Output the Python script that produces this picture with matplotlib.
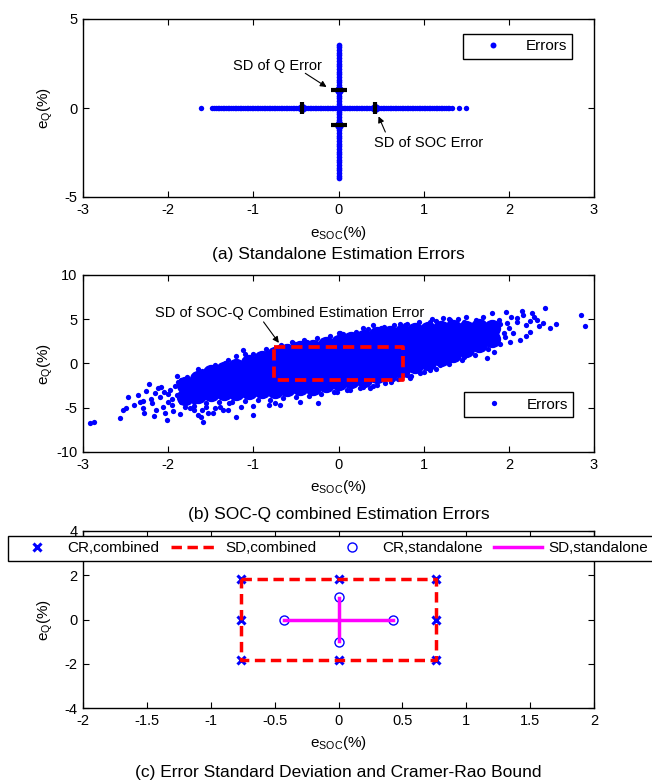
import numpy as np
import matplotlib
matplotlib.use("Agg")
import matplotlib.pyplot as plt

plt.rcParams['font.family'] = ['Liberation Sans', 'DejaVu Sans']
plt.rcParams['mathtext.fontset'] = 'custom'
plt.rcParams['mathtext.rm'] = 'Liberation Sans'
plt.rcParams['mathtext.default'] = 'regular'

# (a) standalone errors: SOC errors lie on e_Q = 0, Q errors on e_SOC = 0
soc_err = [-1.62, -1.48, -1.46, -1.44, -1.42, -1.40, -1.38, -1.36, -1.34, -1.32,
           -1.30, -1.28, -1.26, -1.24, -1.22, -1.20, -1.18, -1.16, -1.14, -1.12,
           -1.10, -1.08, -1.06, -1.04, -1.02, -1.00, -0.98, -0.96, -0.94, -0.92,
           -0.90, -0.88, -0.86, -0.84, -0.82, -0.80, -0.78, -0.76, -0.74, -0.72,
           -0.70, -0.68, -0.66, -0.64, -0.62, -0.60, -0.58, -0.56, -0.54, -0.52,
           -0.50, -0.48, -0.46, -0.44, -0.42, -0.40, -0.38, -0.36, -0.34, -0.32,
           -0.30, -0.28, -0.26, -0.24, -0.22, -0.20, -0.18, -0.16, -0.14, -0.12,
           -0.10, -0.08, -0.06, -0.04, -0.02, 0.00, 0.02, 0.04, 0.06, 0.08,
           0.10, 0.12, 0.14, 0.16, 0.18, 0.20, 0.22, 0.24, 0.26, 0.28,
           0.30, 0.32, 0.34, 0.36, 0.38, 0.40, 0.42, 0.44, 0.46, 0.48,
           0.50, 0.52, 0.54, 0.56, 0.58, 0.60, 0.62, 0.64, 0.66, 0.68,
           0.70, 0.72, 0.74, 0.76, 0.78, 0.80, 0.82, 0.84, 0.86, 0.88,
           0.90, 0.92, 0.94, 0.96, 0.98, 1.00, 1.02, 1.04, 1.06, 1.08,
           1.10, 1.12, 1.14, 1.16, 1.18, 1.20, 1.22, 1.24, 1.26, 1.28,
           1.30, 1.33, 1.42, 1.50]
q_err = [-3.92, -3.80, -3.65, -3.50, -3.35, -3.20, -3.05, -2.90, -2.75, -2.60,
         -2.45, -2.30, -2.15, -2.00, -1.85, -1.70, -1.55, -1.40, -1.25, -1.10,
         -0.95, -0.80, -0.65, -0.50, -0.35, -0.20, -0.05, 0.10, 0.25, 0.40,
         0.55, 0.70, 0.85, 1.00, 1.15, 1.30, 1.45, 1.60, 1.75, 1.90,
         2.05, 2.20, 2.35, 2.50, 2.65, 2.80, 2.95, 3.10, 3.25, 3.40, 3.55]
sd_soc_marks = [-0.43, 0.43]
sd_q_marks = [1.03, -0.93]

# (b) combined errors: dense core of the cloud
core_soc = [-1.80, -1.80,
            -1.65, -1.65, -1.65,
            -1.50, -1.50, -1.50,
            -1.35, -1.35, -1.35,
            -1.20, -1.20, -1.20, -1.20,
            -1.05, -1.05, -1.05, -1.05,
            -0.90, -0.90, -0.90, -0.90,
            -0.75, -0.75, -0.75, -0.75, -0.75,
            -0.60, -0.60, -0.60, -0.60, -0.60,
            -0.45, -0.45, -0.45, -0.45, -0.45,
            -0.30, -0.30, -0.30, -0.30, -0.30,
            -0.15, -0.15, -0.15, -0.15, -0.15,
            0.00, 0.00, 0.00, 0.00, 0.00,
            0.15, 0.15, 0.15, 0.15, 0.15,
            0.30, 0.30, 0.30, 0.30, 0.30,
            0.45, 0.45, 0.45, 0.45, 0.45,
            0.60, 0.60, 0.60, 0.60, 0.60,
            0.75, 0.75, 0.75, 0.75, 0.75,
            0.90, 0.90, 0.90, 0.90, 0.90,
            1.05, 1.05, 1.05, 1.05,
            1.20, 1.20, 1.20, 1.20,
            1.35, 1.35, 1.35, 1.35,
            1.50, 1.50, 1.50,
            1.65, 1.65, 1.65,
            1.80, 1.80]
core_q = [-3.8, -2.4,
          -3.6, -2.6, -1.8,
          -3.3, -2.2, -1.1,
          -3.2, -2.1, -0.7,
          -3.2, -2.1, -1.0, -0.4,
          -3.1, -2.0, -0.9, 0.0,
          -3.0, -1.9, -0.8, 0.5,
          -3.0, -1.9, -0.8, 0.3, 1.0,
          -2.8, -1.7, -0.6, 0.5, 1.3,
          -2.7, -1.6, -0.5, 0.6, 1.6,
          -2.6, -1.5, -0.4, 0.7, 1.8,
          -2.3, -1.2, -0.1, 1.0, 2.1,
          -2.1, -1.0, 0.1, 1.2, 2.3,
          -1.9, -0.8, 0.3, 1.4, 2.6,
          -1.7, -0.6, 0.5, 1.6, 2.9,
          -1.3, -0.2, 0.9, 2.0, 3.2,
          -1.0, 0.1, 1.2, 2.3, 3.3,
          -0.6, 0.5, 1.6, 2.6, 3.5,
          -0.2, 0.9, 2.0, 2.9, 3.7,
          0.2, 1.3, 2.5, 3.8,
          0.6, 1.7, 2.8, 3.9,
          1.1, 2.2, 3.3, 4.0,
          1.6, 2.7, 3.9,
          2.2, 3.2, 4.1,
          2.8, 4.0]

# (b) scattered points around the core
cloud_soc = [-2.92, -2.87, -2.57, -2.53, -2.50, -2.47, -2.29, -2.30, -2.28, -2.26,
             -2.19, -2.17, -2.12, -2.10, -2.08, -2.06, -2.04, -2.01, -1.98, -1.96,
             -1.90, -1.88, -1.86, -1.82, -1.78, -1.74, -1.70, -1.68, -1.65, -1.59,
             -1.55, -1.53, -1.47, -1.43, -1.39, -1.33, -1.29, -1.20, -1.12, -1.10,
             -1.08, -1.00, -0.92, -0.84, -0.82, -0.69, -0.67, -0.53, -0.45, -0.37,
             -0.24, -0.18, 0.00,
             -2.00, -1.95, -2.05, -1.90, -1.85, -1.75, -1.70, -2.15, -2.20, -1.92,
             -1.85, -2.00, -1.80, -1.60, -1.45, -1.30, -1.15, -1.00, -0.75, -1.55,
             -2.35, -2.40, -1.65,
             -1.60, -1.45, -1.30, -1.20, -1.00, -0.85, -0.70, -0.55, -0.40, -0.25,
             -0.10, 0.05, 0.20, 0.35, 0.50, 0.65, 0.80, 0.95, 1.15, 1.30,
             -1.70, -1.55, -1.40, -1.25, -1.10, -0.95, -0.80, -0.65, -0.50, -0.35,
             -0.20, -0.05, 0.10, 0.25, 0.40, 0.55, 0.70, 0.85, 1.00, 1.15,
             1.30, 1.45, 1.60, 1.75,
             0.02, 0.13, 0.29, 0.41, 0.53, 0.72, 0.78, 0.88, 1.07, 1.23,
             1.31, 1.47, 1.62, 1.80, 1.97, 2.03, 2.15, 2.17, 2.27, 2.33,
             2.42, 2.40, 2.48, 2.55, 2.85, 2.89, 2.25, 2.13, 2.01, 1.94,
             1.82, 1.74, 1.62, 1.47, 1.31, 1.19, 1.07, 0.96, 0.80, 0.64,
             0.45, 0.29, 0.13, -0.02, 0.62, 0.84, 0.37,
             1.90, 2.00, 2.10, 1.95, 2.20, 2.30, 1.85, 1.70, 1.50, 1.40,
             1.10, 1.90, 2.05, 2.10, 2.35, 1.88, 1.75, 2.20, 1.98, 2.25,
             -2.22, -2.14, -1.94, -1.76, -2.33, -1.62, -1.36]
cloud_q = [-6.77, -6.65, -6.20, -5.26, -5.00, -3.83, -4.24, -5.07, -5.56, -3.11,
           -4.50, -5.94, -2.80, -3.75, -2.60, -4.88, -5.64, -6.39, -3.00, -4.70,
           -1.42, -2.06, -5.71, -2.81, -1.57, -5.07, -4.32, -1.57, -5.82, -6.58,
           -1.30, -5.64, -5.64, -0.74, -4.88, 0.07, -4.50, -6.01, 1.52, 1.07,
           0.58, -5.82, 0.96, 1.14, -4.69, -4.69, 2.08, 2.27, -4.32, 2.46,
           -4.43, 2.65, 3.40,
           -3.50, -4.00, -3.20, -3.60, -4.40, -3.00, -5.20, -3.30, -4.00, -2.50,
           -1.90, -4.40, -4.90, -5.20, -5.00, -5.30, -4.90, -4.80, -4.50, -4.90,
           -3.60, -4.70, -0.60,
           -0.80, -0.20, 0.40, 0.80, 1.10, 1.60, 1.90, 2.40, 2.60, 2.90,
           3.10, 3.30, 3.60, 3.90, 4.00, 4.30, 4.50, 4.70, 4.80, 5.00,
           -4.80, -4.50, -4.30, -4.30, -4.20, -4.10, -4.10, -3.90, -3.80, -3.70,
           -3.40, -3.20, -3.00, -2.80, -2.50, -2.20, -1.80, -1.40, -1.00, -0.60,
           -0.10, 0.40, 1.00, 1.60,
           3.48, 3.03, 3.97, 4.35, 4.16, 4.42, 4.35, 4.16, 4.72, 5.10,
           4.91, 4.72, 4.91, 5.66, 5.85, 5.29, 5.96, 5.48, 5.66, 4.91,
           6.23, 4.53, 3.97, 4.42, 5.48, 4.23, 3.59, 2.65, 2.46, 3.40,
           1.33, 0.58, 2.27, 0.77, 0.39, -0.17, -0.74, -1.12, -1.30, -1.79,
           -2.43, -2.62, -3.00, -3.19, -2.06, -1.61, -2.81,
           4.50, 4.00, 4.70, 3.00, 4.30, 5.20, 3.60, 5.30, 5.20, 5.00,
           5.00, 2.20, 3.50, 5.10, 4.20, 4.90, 2.40, 3.10, 4.60, 4.80,
           -2.30, -5.20, -5.40, -2.30, -4.40, -6.10, -5.20]

# SD box of the combined estimate (half widths)
sd_comb_soc = 0.76
sd_comb_q = 1.84

# (c) Cramer-Rao bound points and SD outlines
cr_comb_soc = [-0.76, -0.76, -0.76, 0.0, 0.0, 0.76, 0.76, 0.76]
cr_comb_q = [1.84, 0.0, -1.84, 1.84, -1.84, 1.84, 0.0, -1.84]
cr_std_soc = [-0.43, 0.43, 0.0, 0.0]
cr_std_q = [0.0, 0.0, 1.0, -1.0]
sd_std_soc = 0.43
sd_std_q = 0.97

blue = (0, 0, 1)
red = (1, 0, 0)
magenta = (1, 0, 1)
W, H = 652, 782


def style_axes(ax, xticks, yticks, xlabels=None, ylabels=None):
    ax.set_xticks(xticks)
    ax.set_yticks(yticks)
    ax.set_xticklabels(xlabels if xlabels else [str(t) for t in xticks])
    ax.set_yticklabels(ylabels if ylabels else [str(t) for t in yticks])
    ax.set_xlim(xticks[0], xticks[-1])
    ax.set_ylim(yticks[0], yticks[-1])
    ax.tick_params(direction='in', top=True, right=True, length=4.5, width=0.8,
                   labelsize=10.5, pad=4, colors='k')
    for s in ax.spines.values():
        s.set_linewidth(1.0)
        s.set_color('k')


def labels(ax_top_px, ax_bot_px, xlab_px, cap_px, caption):
    fig.text(338.5 / W, 1 - xlab_px / H, r'e$_{SOC}$(%)', ha='center', va='center', fontsize=11)
    fig.text(338.5 / W, 1 - cap_px / H, caption, ha='center', va='center', fontsize=12.5)
    fig.text(45 / W, 1 - (ax_top_px + ax_bot_px) / 2 / H, r'e$_{Q}$(%)', rotation=90,
             ha='center', va='center', fontsize=11)


def frame_legend(leg):
    fr = leg.get_frame()
    fr.set_edgecolor('k')
    fr.set_linewidth(1.0)
    fr.set_facecolor('white')
    fr.set_alpha(1)


fig = plt.figure(figsize=(6.52, 7.82), dpi=100)
ax_a = fig.add_axes([83 / W, 1 - 197 / H, 511 / W, 178 / H])
ax_b = fig.add_axes([83 / W, 1 - 452 / H, 511 / W, 177 / H])
ax_c = fig.add_axes([83 / W, 1 - 708 / H, 511 / W, 177 / H])

# ---- (a)
ax_a.plot(soc_err, [0] * len(soc_err), 'o', color=blue, ms=3.9, mew=0, label='Errors')
ax_a.plot([0] * len(q_err), q_err, 'o', color=blue, ms=4.1, mew=0)
ax_a.plot(sd_soc_marks, [0, 0], 'o', color=blue, ms=6.5, mew=0)
ax_a.plot([0, 0], sd_q_marks, 'o', color=blue, ms=6.5, mew=0)
ax_a.plot(sd_soc_marks, [0, 0], '|', color='k', ms=9, mew=3)
ax_a.plot([0, 0], sd_q_marks, '_', color='k', ms=12, mew=3)
style_axes(ax_a, [-3, -2, -1, 0, 1, 2, 3], [-5, 0, 5])
leg = ax_a.legend(loc='upper right', bbox_to_anchor=(0.957, 0.916), borderaxespad=0,
                  fancybox=False, fontsize=11, handlelength=3.3, handletextpad=0.45,
                  borderpad=0.35, markerscale=1.1)
frame_legend(leg)
arrow = dict(arrowstyle='-|>', color='k', lw=0.8, mutation_scale=9, shrinkA=0, shrinkB=0)
ax_a.text(-0.72, 2.34, 'SD of Q Error', ha='center', va='center', fontsize=10.5)
ax_a.annotate('', xy=(-0.14, 1.18), xytext=(-0.39, 1.95), arrowprops=arrow)
ax_a.text(1.06, -1.96, 'SD of SOC Error', ha='center', va='center', fontsize=10.5)
ax_a.annotate('', xy=(0.47, -0.47), xytext=(0.55, -1.35), arrowprops=arrow)
labels(19, 197, 233, 255, '(a) Standalone Estimation Errors')

# ---- (b)
ax_b.plot(core_soc, core_q, 'o', color=blue, ms=12.5, mew=0)
ax_b.plot(cloud_soc, cloud_q, 'o', color=blue, ms=3.8, mew=0, label='Errors')
ax_b.plot([-sd_comb_soc, sd_comb_soc, sd_comb_soc, -sd_comb_soc, -sd_comb_soc],
          [sd_comb_q, sd_comb_q, -sd_comb_q, -sd_comb_q, sd_comb_q],
          color=red, lw=2.7, dashes=(3, 1.6))
style_axes(ax_b, [-3, -2, -1, 0, 1, 2, 3], [-10, -5, 0, 5, 10])
leg = ax_b.legend(loc='lower right', bbox_to_anchor=(0.959, 0.198), borderaxespad=0,
                  fancybox=False, fontsize=11, handlelength=3.3, handletextpad=0.45,
                  borderpad=0.35, markerscale=1.0)
frame_legend(leg)
ax_b.text(-0.57, 5.72, 'SD of SOC-Q Combined Estimation Error', ha='center', va='center',
          fontsize=10.5)
ax_b.annotate('', xy=(-0.70, 2.33), xytext=(-0.88, 4.7), arrowprops=arrow)
labels(275, 452, 487, 515, '(b) SOC-Q combined Estimation Errors')

# ---- (c)
ax_c.plot(cr_comb_soc, cr_comb_q, 'x', color=blue, ms=6, mew=2.2, label='CR,combined')
ax_c.plot([-sd_comb_soc, sd_comb_soc, sd_comb_soc, -sd_comb_soc, -sd_comb_soc],
          [sd_comb_q, sd_comb_q, -sd_comb_q, -sd_comb_q, sd_comb_q],
          color=red, lw=2.5, dashes=(3, 1.6), label='SD,combined')
ax_c.plot(cr_std_soc, cr_std_q, 'o', mfc='none', mec=blue, ms=6.5, mew=1, label='CR,standalone')
ax_c.plot([-sd_std_soc, sd_std_soc], [0, 0], color=magenta, lw=2.5, label='SD,standalone')
ax_c.plot([0, 0], [-sd_std_q, sd_std_q], color=magenta, lw=2.5)
style_axes(ax_c, [-2, -1.5, -1, -0.5, 0, 0.5, 1, 1.5, 2], [-4, -2, 0, 2, 4],
           xlabels=['-2', '-1.5', '-1', '-0.5', '0', '0.5', '1', '1.5', '2'])
leg = ax_c.legend(loc='upper left', bbox_to_anchor=(8 / W, 1 - 536 / H),
                  bbox_transform=fig.transFigure, borderaxespad=0, ncol=4,
                  fancybox=False, fontsize=11, handlelength=3.1, handletextpad=0.45,
                  columnspacing=0.75, borderpad=0.35)
frame_legend(leg)
labels(531, 708, 743, 773, '(c) Error Standard Deviation and Cramer-Rao Bound')

fig.savefig('out.png', dpi=100)
